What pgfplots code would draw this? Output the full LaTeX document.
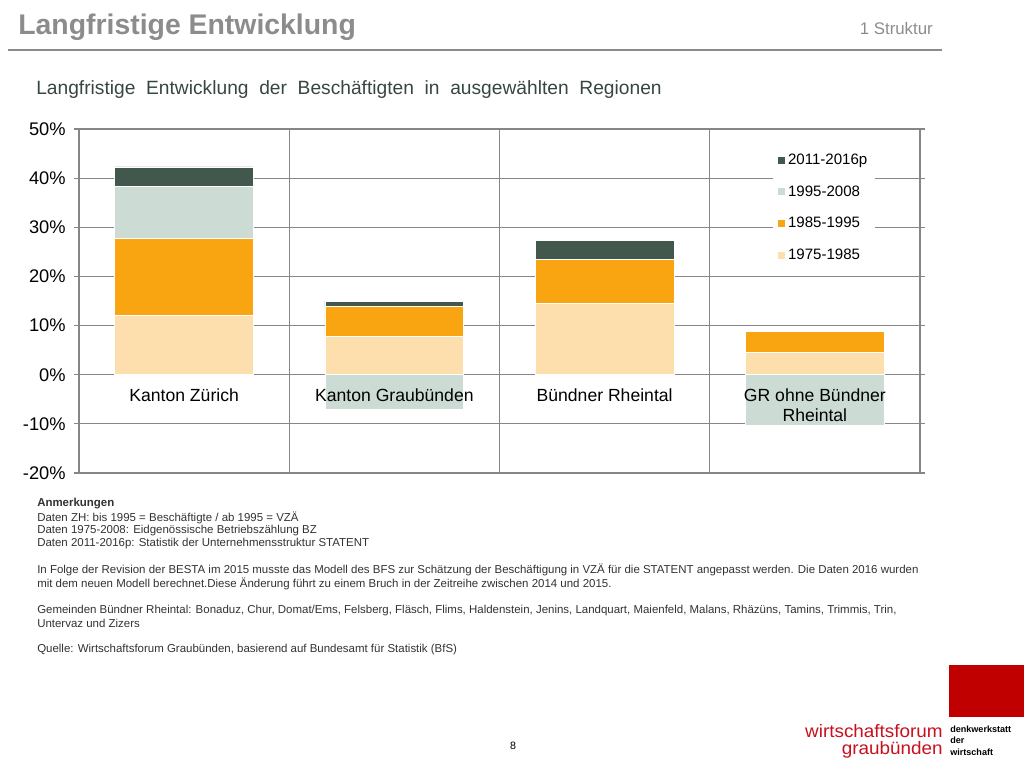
\documentclass[border=0pt]{standalone}
\usepackage{pgfplots}
\pgfplotsset{compat=1.18}
\usepackage{fontspec}
\setmainfont{Liberation Sans}
\usepackage{graphicx}
\definecolor{cA}{RGB}{253,223,174}
\definecolor{cB}{RGB}{249,165,18}
\definecolor{cC}{RGB}{204,219,211}
\definecolor{cD}{RGB}{67,88,77}
\definecolor{gridc}{RGB}{134,134,134}
\definecolor{titlec}{RGB}{140,140,140}
\definecolor{subc}{RGB}{55,70,62}
\definecolor{notec}{RGB}{50,50,50}
\definecolor{logored}{RGB}{200,16,30}
\definecolor{boxred}{RGB}{192,0,0}
\begin{document}
\begin{tikzpicture}[x=0.75pt,y=0.75pt]
\path[use as bounding box] (0,0) rectangle (1024,768);
% header
\node[anchor=base west, inner sep=0, text=titlec, font=\fontsize{21.3}{24}\selectfont\bfseries] at (18,733) {Langfristige Entwicklung};
\node[anchor=base east, inner sep=0, text=titlec, font=\fontsize{12.6}{14}\selectfont] at (933,733) {1 Struktur};
\draw[titlec, line width=2pt] (8,718) -- (942,718);
\node[anchor=base west, inner sep=0, text=subc, font=\fontsize{14.4}{16}\selectfont] at (36,673) {Langfristige\ \ Entwicklung\ \ der\ \ Beschäftigten\ \ in\ \ ausgewählten\ \ Regionen};
% chart
\begin{axis}[
  at={(59.25pt,221.25pt)}, anchor=south west, scale only axis,
  width=630.75pt, height=258pt,
  ybar stacked, stack negative=separate, bar width=0.66,
  xmin=-0.5, xmax=3.5, ymin=-20, ymax=50,
  ytick={-20,-10,...,50},
  xtick={0.5,1.5,2.5}, xticklabels={},
  xtick style={draw=none},
  ytick style={gridc, line width=0.8pt},
  tick align=outside, major tick length=4pt,
  xmajorgrids, ymajorgrids,
  grid style={gridc, line width=0.8pt},
  axis line style={gridc, line width=0.8pt},
  /pgf/number format/assume math mode=true,
  yticklabel={\pgfmathprintnumber{\tick}\%},
  yticklabel style={font=\fontsize{13.7}{15}\selectfont, text=black, xshift=-2.5pt},
  every axis plot/.append style={draw=white, line width=0.5pt},
  reverse legend,
  legend cell align=left,
  legend image code/.code={\fill[#1,draw=none] (0pt,-2.6pt) rectangle (5.2pt,2.6pt);},
  legend style={at={(0.825,0.955)}, anchor=north west, draw=none, fill=white,
    font=\fontsize{11.3}{13}\selectfont, row sep=10.3pt, inner xsep=4pt, inner ysep=5pt},
]
\addplot[fill=cA] coordinates {(0,12.0) (1,7.85) (2,14.5) (3,4.5)};
\addlegendentry{1975-1985}
\addplot[fill=cB] coordinates {(0,15.8) (1,6.0) (2,8.9) (3,4.3)};
\addlegendentry{1985-1995}
\addplot[fill=cC] coordinates {(0,10.6) (1,-7.05) (2,0) (3,-10.4)};
\addlegendentry{1995-2008}
\addplot[fill=cD] coordinates {(0,3.9) (1,1.15) (2,3.9) (3,0)};
\addlegendentry{2011-2016p}
\coordinate (c0) at (axis cs:0,-2.8);
\coordinate (c1) at (axis cs:1,-2.8);
\coordinate (c2) at (axis cs:2,-2.8);
\coordinate (c3) at (axis cs:3,-2.8);
\end{axis}
\begin{scope}[every node/.style={anchor=north, inner sep=0, align=center, font=\fontsize{13.2}{15}\selectfont}]
\node at (c0) {Kanton Zürich};
\node at (c1) {Kanton Graubünden};
\node at (c2) {Bündner Rheintal};
\node at (c3) {GR ohne Bündner\\Rheintal};
\end{scope}
% notes
\begin{scope}[every node/.style={anchor=base west, inner sep=0, text=notec, font=\fontsize{8.6}{9}\selectfont}]
\node at (37,261) {\bfseries Anmerkungen};
\node at (37,247) {Daten ZH: bis 1995 = Beschäftigte / ab 1995 = VZÄ};
\node at (37,234.5) {Daten 1975-2008: Eidgenössische Betriebszählung BZ};
\node at (37,222) {Daten 2011-2016p: Statistik der Unternehmensstruktur STATENT};
\node at (37,195) {In Folge der Revision der BESTA im 2015 musste das Modell des BFS zur Schätzung der Beschäftigung in VZÄ für die STATENT angepasst werden. Die Daten 2016 wurden};
\node at (37,181) {mit dem neuen Modell berechnet.Diese Änderung führt zu einem Bruch in der Zeitreihe zwischen 2014 und 2015.};
\node at (37,155) {Gemeinden Bündner Rheintal: Bonaduz, Chur, Domat/Ems, Felsberg, Fläsch, Flims, Haldenstein, Jenins, Landquart, Maienfeld, Malans, Rhäzüns, Tamins, Trimmis, Trin,};
\node at (37,141) {Untervaz und Zizers};
\node at (37,116) {Quelle: Wirtschaftsforum Graubünden, basierend auf Bundesamt für Statistik (BfS)};
\end{scope}
% page number
\node[anchor=base, inner sep=0, font=\fontsize{8}{9}\selectfont] at (513,19) {8};
% logo
\fill[boxred] (949,51) rectangle (1024,103);
\node[anchor=base east, inner sep=0, text=logored, align=right, font=\fontsize{13.5}{12.5}\selectfont] at (943,14) {\scalebox{1.05}[1]{wirtschaftsforum}\\\scalebox{1.05}[1]{graubünden}};
\node[anchor=base west, inner sep=0, align=left, font=\fontsize{6.8}{8.4}\selectfont\bfseries] at (950,13) {denkwerkstatt\\der\\wirtschaft};
\end{tikzpicture}
\end{document}
